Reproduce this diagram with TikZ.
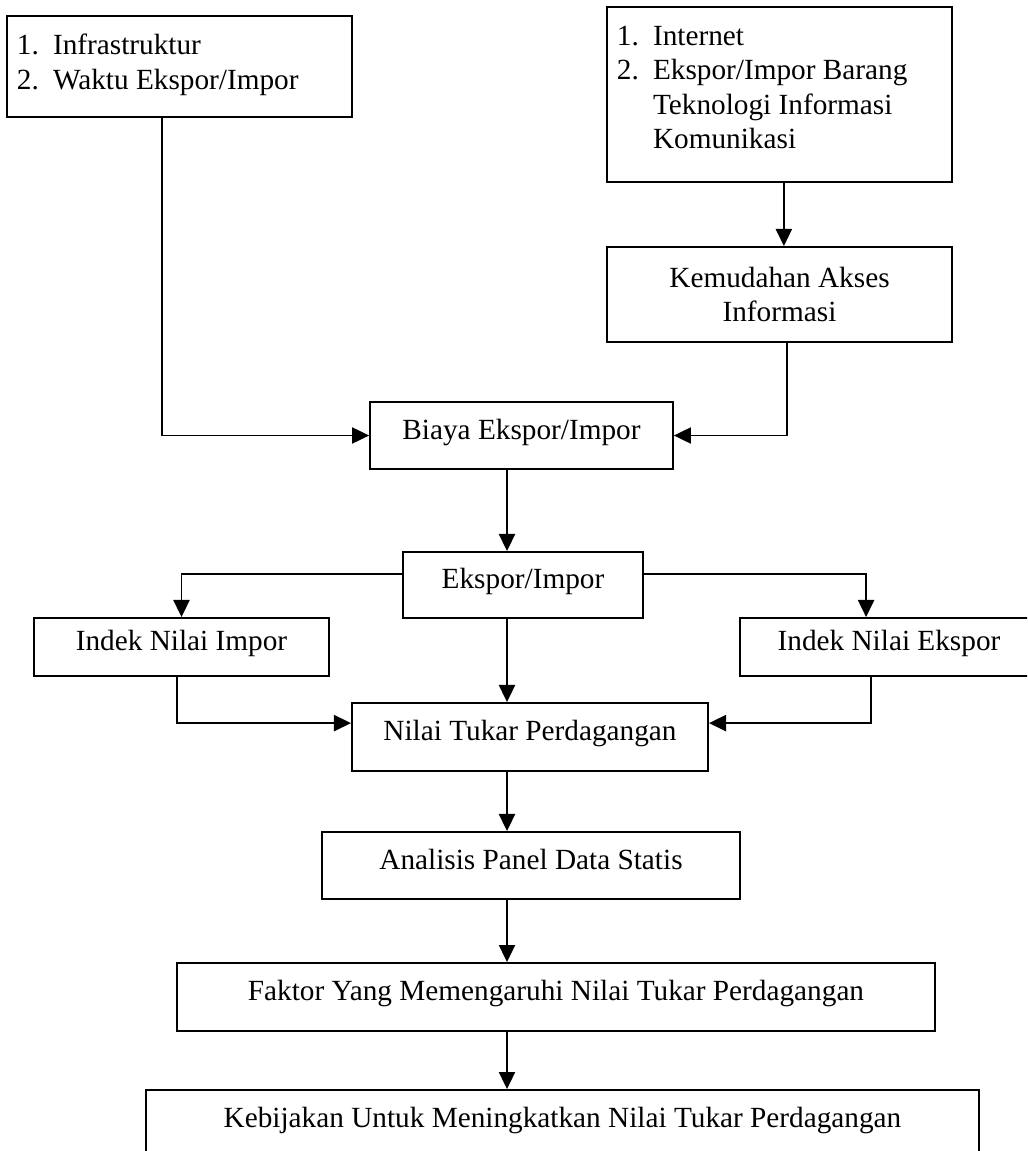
\documentclass[tikz,border=0pt]{standalone}
\usepackage{fontspec}
\setmainfont{Liberation Serif}
\usetikzlibrary{arrows.meta}

\begin{document}
\begin{tikzpicture}[x=0.41pt, y=-0.41pt, line width=0.75pt,
  font=\fontsize{12}{14}\selectfont,
  box/.style={draw, inner sep=0pt},
  onebox/.style={box, text height=8pt, text depth=5pt},
  listtext/.style={inner sep=0pt, anchor=north west},
  arr/.style={-{Triangle[length=7pt, width=6.6pt]}}]
  \useasboundingbox (0,0) rectangle (1027,1151);
  \clip (0,0) rectangle (1027,1151);
  \coordinate (spine) at (507,0);

  % input boxes at the top
  \node[box, minimum width=141.5pt, minimum height=41.4pt] (infra) at (179.5,66.5) {};
  \node[listtext] (infra-txt) at ([shift={(10,15)}]infra.north west)
    {\begin{tabular}{@{}p{14.8pt}@{}l@{}}
      1. & Infrastruktur\\
      2. & Waktu Ekspor/Impor
    \end{tabular}};
  \node[box, minimum width=141.5pt, minimum height=71.8pt] (inet) at (779.5,94.5) {};
  \node[listtext] (inet-txt) at ([shift={(10,15)}]inet.north west)
    {\begin{tabular}{@{}p{14.8pt}@{}l@{}}
      1. & Internet\\
      2. & Ekspor/Impor Barang\\
         & Teknologi Informasi\\
         & Komunikasi
    \end{tabular}};
  \node[box, align=center, minimum width=141.5pt, minimum height=39pt] (akses) at (779.5,294.5)
    {Kemudahan Akses\\Informasi};

  % middle part
  \node[onebox, minimum width=124.2pt, minimum height=27.5pt] (biaya) at (521.5,435.5) {Biaya Ekspor/Impor\hspace{10pt}};
  \node[onebox, minimum width=98.4pt, minimum height=27.1pt] (ekspor) at (523,585) {Ekspor/Impor};
  \node[onebox, minimum width=121pt, minimum height=23.8pt] (nimpor) at (181.5,647) {Indek Nilai Impor};
  \node[onebox, minimum width=122.2pt, minimum height=23.8pt] (nekspor) at (889,647) {Indek Nilai Ekspor};
  \node[onebox, minimum width=146pt, minimum height=27.9pt] (ntp) at (530,737) {Nilai Tukar Perdagangan};

  % analysis and results
  \node[onebox, minimum width=171.4pt, minimum height=27.5pt] (panel) at (531,865.5) {Analisis Panel Data Statis};
  \node[onebox, minimum width=310.8pt, minimum height=27.9pt] (faktor) at (556,997) {Faktor Yang Memengaruhi Nilai Tukar Perdagangan};
  \node[onebox, minimum width=341.5pt, minimum height=27.9pt] (kebijakan) at (562.5,1124) {Kebijakan Untuk Meningkatkan Nilai Tukar Perdagangan};

  % arrows
  \draw[arr] ([xshift=-7.2pt]infra.south) |- (biaya.west);
  \draw[arr] ([xshift=1.8pt]inet.south) -- ([xshift=1.8pt]akses.north);
  \draw[arr] ([xshift=3pt]akses.south) |- (biaya.east);
  \draw[arr] ([yshift=4.5pt]ekspor.west) -| (nimpor.north);
  \draw[arr] ([yshift=4.5pt]ekspor.east) -| ([xshift=-9.4pt]nekspor.north);
  \draw[arr] ([xshift=-1.8pt]nimpor.south) |- ([yshift=5.7pt]ntp.west);
  \draw[arr] ([xshift=-7.4pt]nekspor.south) |- ([yshift=5.7pt]ntp.east);
  \foreach \a/\b in {biaya/ekspor, ekspor/ntp, ntp/panel, panel/faktor, faktor/kebijakan}
    \draw[arr] (\a.south -| spine) -- (\b.north -| spine);
\end{tikzpicture}
\end{document}
